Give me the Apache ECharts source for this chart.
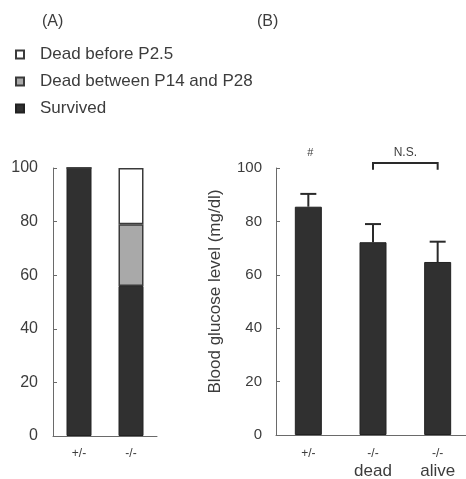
<!DOCTYPE html>
<html>
<head>
<meta charset="utf-8">
<script src="https://cdn.jsdelivr.net/npm/echarts@6/dist/echarts.min.js"></script>
<style>
html,body{margin:0;padding:0;background:#fff;}
#c{width:466px;height:479px;}
</style>
</head>
<body>
<div id="c"></div>
<script>
// Panel A: survival (%)
const categoriesA = ['+/-', '-/-'];
const survived = [100, 56];
const deadP14to28 = [0, 23];
const deadBeforeP25 = [0, 21];
const legendNames = ['Dead before P2.5', 'Dead between P14 and P28', 'Survived'];
const ticksA = [0, 20, 40, 60, 80, 100];

// Panel B: blood glucose (mg/dl)
const categoriesB = ['+/-', '-/-', '-/-'];
const subLabelsB = ['', 'dead', 'alive'];
const glucoseMean = [85.5, 72.2, 64.8];
const glucoseErr = [4.8, 6.8, 7.6];
const ticksB = [0, 20, 40, 60, 80, 100];
const annotHash = ['#', '', ''];
const nsPair = [1, 2];

const FONT = '"Liberation Sans", Arial, Helvetica, sans-serif';
const TXT = '#3c3c3c';
const AX = '#6a6a6a';
const DARK = '#303030';

const chart = echarts.init(document.getElementById('c'), null, {renderer: 'canvas'});

const option = {
  backgroundColor: '#ffffff',
  animation: false,
  textStyle: {fontFamily: FONT, color: TXT},
  title: [
    {text: '(A)', left: 37, top: 9, textStyle: {fontSize: 16, fontWeight: 'normal', color: TXT, fontFamily: FONT}},
    {text: '(B)', left: 252, top: 9, textStyle: {fontSize: 16, fontWeight: 'normal', color: TXT, fontFamily: FONT}}
  ],
  legend: {
    orient: 'vertical',
    left: 10,
    top: 41,
    itemWidth: 8,
    itemHeight: 8,
    itemGap: 10,
    selectedMode: false,
    icon: 'rect',
    data: legendNames,
    textStyle: {fontSize: 17, color: TXT, fontFamily: FONT, padding: [0, 0, 0, 11]}
  },
  grid: [
    {left: 53, top: 168, width: 104, height: 268, outerBoundsMode: 'none'},
    {left: 276, top: 168, width: 194, height: 267, outerBoundsMode: 'none'}
  ],
  xAxis: [
    {
      type: 'category', gridIndex: 0, data: categoriesA,
      axisLine: {lineStyle: {color: AX, width: 1}},
      axisTick: {inside: true, length: 4, lineStyle: {color: AX}},
      axisLabel: {fontSize: 12, color: TXT, margin: 12}
    },
    {
      type: 'category', gridIndex: 1, data: categoriesB,
      axisLine: {lineStyle: {color: AX, width: 1}},
      axisTick: {inside: true, length: 4, lineStyle: {color: AX}},
      axisLabel: {
        margin: 12,
        formatter: function (v, i) {
          return subLabelsB[i] ? '{s|' + v + '}\n{b|' + subLabelsB[i] + '}' : '{s|' + v + '}';
        },
        rich: {
          s: {fontSize: 12, color: TXT, fontFamily: FONT, lineHeight: 14},
          b: {fontSize: 17, color: TXT, fontFamily: FONT, lineHeight: 20}
        }
      }
    }
  ],
  yAxis: [
    {
      type: 'value', gridIndex: 0, min: 0, max: 100, interval: 20,
      axisLine: {show: true, lineStyle: {color: AX, width: 1}},
      axisTick: {show: true, inside: true, length: 4, lineStyle: {color: AX}},
      splitLine: {show: false},
      axisLabel: {fontSize: 16, color: TXT, margin: 15,
        formatter: function (v) { return ticksA.indexOf(v) >= 0 ? String(v) : ''; }}
    },
    {
      type: 'value', gridIndex: 1, min: 0, max: 100, interval: 20,
      name: 'Blood glucose level (mg/dl)',
      nameLocation: 'middle', nameRotate: 90, nameGap: 52,
      nameTextStyle: {fontSize: 17, color: TXT, fontFamily: FONT, padding: [0, 0, 0, 20]},
      axisLine: {show: true, lineStyle: {color: AX, width: 1}},
      axisTick: {show: true, inside: true, length: 4, lineStyle: {color: AX}},
      splitLine: {show: false},
      axisLabel: {fontSize: 15, color: TXT, margin: 14,
        formatter: function (v) { return ticksB.indexOf(v) >= 0 ? String(v) : ''; }}
    }
  ],
  series: [
    {
      name: 'Survived', type: 'bar', xAxisIndex: 0, yAxisIndex: 0, stack: 'a',
      data: survived, barWidth: 25,
      itemStyle: {color: DARK, borderColor: '#222', borderWidth: 1}
    },
    {
      name: 'Dead between P14 and P28', type: 'bar', xAxisIndex: 0, yAxisIndex: 0, stack: 'a',
      data: deadP14to28, barWidth: 25,
      itemStyle: {color: '#a9a9a9', borderColor: '#3a3a3a', borderWidth: 1.5}
    },
    {
      name: 'Dead before P2.5', type: 'bar', xAxisIndex: 0, yAxisIndex: 0, stack: 'a',
      data: deadBeforeP25, barWidth: 25,
      itemStyle: {color: '#ffffff', borderColor: '#3a3a3a', borderWidth: 1.5}
    },
    {
      name: 'glucose', type: 'bar', xAxisIndex: 1, yAxisIndex: 1,
      data: glucoseMean, barWidth: 27,
      itemStyle: {color: DARK, borderColor: '#222', borderWidth: 1}
    },
    {
      name: 'err', type: 'custom', xAxisIndex: 1, yAxisIndex: 1, z: 1,
      data: glucoseMean.map(function (m, i) { return [i, m, m + glucoseErr[i]]; }),
      renderItem: function (params, api) {
        const x = api.value(0);
        const p0 = api.coord([x, api.value(1)]);
        const p1 = api.coord([x, api.value(2)]);
        const hw = 8;
        const st = {stroke: '#2a2a2a', lineWidth: 2};
        return {type: 'group', children: [
          {type: 'line', shape: {x1: p0[0], y1: p0[1], x2: p1[0], y2: p1[1]}, style: st},
          {type: 'line', shape: {x1: p1[0] - hw, y1: p1[1], x2: p1[0] + hw, y2: p1[1]}, style: st}
        ]};
      }
    },
    {
      name: 'hash', type: 'custom', xAxisIndex: 1, yAxisIndex: 1, clip: false,
      data: annotHash.map(function (t, i) { return [i, 105.5, t]; }).filter(function (d) { return d[2]; }),
      renderItem: function (params, api) {
        const p = api.coord([api.value(0), api.value(1)]);
        return {type: 'text', x: p[0] + 2, y: p[1], style: {text: '#', fontSize: 11, fill: TXT, fontFamily: FONT, align: 'center', verticalAlign: 'middle'}};
      }
    },
    {
      name: 'ns', type: 'custom', xAxisIndex: 1, yAxisIndex: 1, clip: false,
      data: [[nsPair[0], nsPair[1], 101.9, 99.3, 105.6]],
      renderItem: function (params, api) {
        const a = api.coord([api.value(0), api.value(2)]);
        const b = api.coord([api.value(1), api.value(2)]);
        const a2 = api.coord([api.value(0), api.value(3)]);
        const t = api.coord([api.value(0), api.value(4)]);
        const cx = (a[0] + b[0]) / 2;
        const st = {stroke: '#2a2a2a', lineWidth: 2, fill: null};
        return {type: 'group', children: [
          {type: 'polyline', shape: {points: [[a[0], a2[1]], [a[0], a[1]], [b[0], b[1]], [b[0], a2[1]]]}, style: st},
          {type: 'text', x: cx, y: t[1], style: {text: 'N.S.', fontSize: 12, fill: TXT, fontFamily: FONT, align: 'center', verticalAlign: 'middle'}}
        ]};
      }
    }
  ]
};
chart.setOption(option);
</script>
</body>
</html>
